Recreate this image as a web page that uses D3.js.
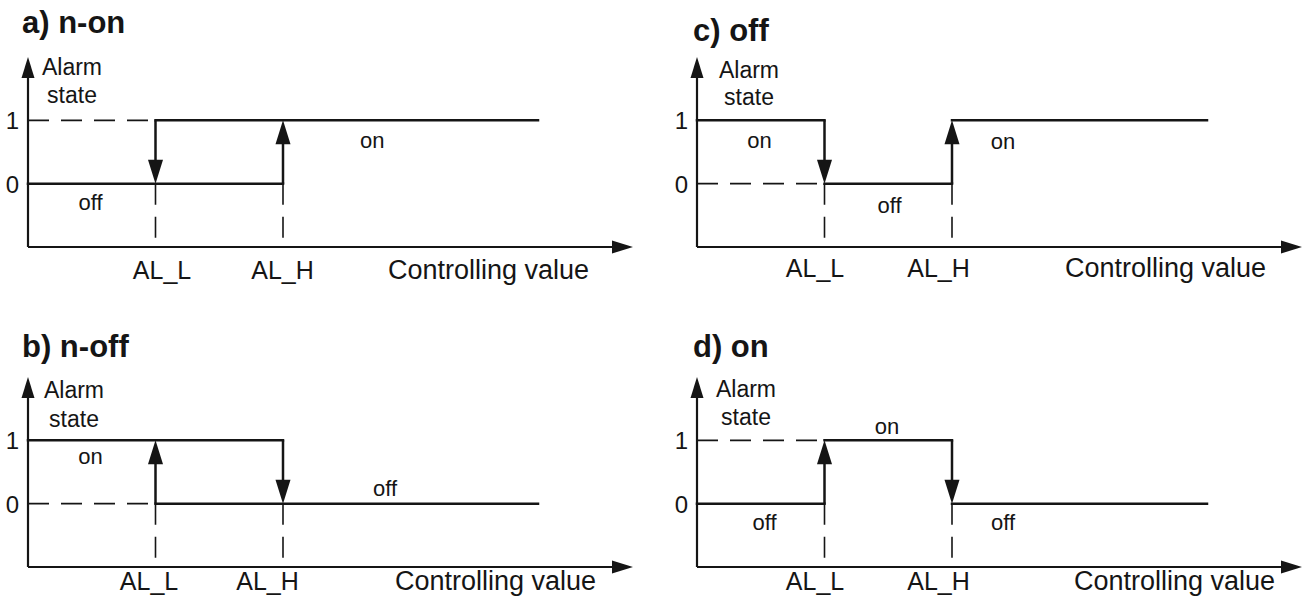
<!DOCTYPE html>
<html><head><meta charset="utf-8">
<script src="https://cdn.jsdelivr.net/npm/d3@7"></script>
<style>body{margin:0;background:#fff}svg{display:block}</style>
</head><body><svg id="chart" width="1302" height="596"></svg>
<script>
// ---------------- data ----------------
const panelTitles = ["a) n-on", "b) n-off", "c) off", "d) on"];
const xTickLabels = ["AL_L", "AL_H"];
const xTickValues = [1, 2];            // AL_L, AL_H on the controlling-value axis
const yTickLabels = ["0", "1"];
const yTickValues = [0, 1];            // alarm state
const xAxisTitle = "Controlling value";
const yAxisTitle = ["Alarm", "state"];

// segments [x1, y1, x2, y2] in (controlling value, alarm state) units
const solidA = [[0, 0, 2, 0], [1, 1, 4, 1]];
const arrowA = [[1, 1, 1, 0], [2, 0, 2, 1]];
const dashA  = [[0, 1, 1, 1], [1, 0, 1, -1], [2, 0, 2, -1]];

const solidB = [[0, 1, 2, 1], [1, 0, 4, 0]];
const arrowB = [[1, 0, 1, 1], [2, 1, 2, 0]];
const dashB  = [[0, 0, 1, 0], [1, 0, 1, -1], [2, 0, 2, -1]];

const solidC = [[0, 1, 1, 1], [1, 0, 2, 0], [2, 1, 4, 1]];
const arrowC = [[1, 1, 1, 0], [2, 0, 2, 1]];
const dashC  = [[0, 0, 1, 0], [1, 0, 1, -1], [2, 0, 2, -1]];

const solidD = [[0, 0, 1, 0], [1, 1, 2, 1], [2, 0, 4, 0]];
const arrowD = [[1, 0, 1, 1], [2, 1, 2, 0]];
const dashD  = [[0, 1, 1, 1], [1, 0, 1, -1], [2, 0, 2, -1]];

// state annotations [text, x, y]
const labelsA = [["on", 2.70, 0.68], ["off", 0.49, -0.29]];
const labelsB = [["on", 0.49, 0.75], ["off", 2.80, 0.24]];
const labelsC = [["on", 0.49, 0.68], ["on", 2.40, 0.67], ["off", 1.51, -0.35]];
const labelsD = [["on", 1.49, 1.22], ["off", 0.53, -0.30], ["off", 2.40, -0.30]];

const panelSolid  = [solidA, solidB, solidC, solidD];
const panelArrow  = [arrowA, arrowB, arrowC, arrowD];
const panelDash   = [dashA, dashB, dashC, dashD];
const panelLabels = [labelsA, labelsB, labelsC, labelsD];

// ---------------- layout ----------------
const layout = [
  {ox: 28,  oy: 247, tx: 22,  ty: 33,  tickY: 279, tickDx: [6, -1],   xtX: 388,  yt: [75, 103],  ytX: 44},
  {ox: 28,  oy: 567, tx: 22,  ty: 357, tickY: 590, tickDx: [-7, -16], xtX: 395,  yt: [398, 427], ytX: 46},
  {ox: 697, oy: 247, tx: 693, ty: 41,  tickY: 277, tickDx: [-10, -14], xtX: 1065, yt: [78, 105],  ytX: 52},
  {ox: 697, oy: 567, tx: 693, ty: 357, tickY: 590, tickDx: [-10, -14], xtX: 1074, yt: [397, 425], ytX: 49}
];
const FONT = "'Liberation Sans', Arial, Helvetica, sans-serif";
const INK = "#151515";

const svg = d3.select("#chart");

function head(tx, ty, dx, dy, len, wid) {
  const n = Math.hypot(dx, dy), ux = dx / n, uy = dy / n;
  const bx = tx - ux * len, by = ty - uy * len;
  const px = -uy * wid / 2, py = ux * wid / 2;
  return `M${tx},${ty}L${bx + px},${by + py}L${bx - px},${by - py}Z`;
}

panelTitles.forEach((title, i) => {
  const L = layout[i];
  const x = d3.scaleLinear().domain([0, 4]).range([L.ox, L.ox + 510]);
  const y = d3.scaleLinear().domain([-1, 2]).range([L.oy, L.oy - 190]);
  const xEnd = L.ox + 605;
  const g = svg.append("g").attr("font-family", FONT).attr("fill", INK);

  // title
  g.append("text").attr("x", L.tx).attr("y", L.ty)
    .attr("font-size", 31).attr("font-weight", "bold").text(title);

  // dashed guides
  g.selectAll("line.dash").data(panelDash[i]).join("line").attr("class", "dash")
    .attr("x1", d => x(d[0])).attr("y1", d => y(d[1]))
    .attr("x2", d => x(d[2])).attr("y2", d => y(d[3]))
    .attr("stroke", INK).attr("stroke-width", 1.6).attr("stroke-dasharray", "21,12");

  // solid state lines
  g.selectAll("line.solid").data(panelSolid[i]).join("line").attr("class", "solid")
    .attr("x1", d => x(d[0])).attr("y1", d => y(d[1]))
    .attr("x2", d => x(d[2])).attr("y2", d => y(d[3]))
    .attr("stroke", INK).attr("stroke-width", 2.5).attr("stroke-linecap", "square");

  // transition arrows
  g.selectAll("line.arr").data(panelArrow[i]).join("line").attr("class", "arr")
    .attr("x1", d => x(d[0])).attr("y1", d => y(d[1]))
    .attr("x2", d => x(d[2])).attr("y2", d => y(d[3]) + (d[3] > d[1] ? 10 : -10))
    .attr("stroke", INK).attr("stroke-width", 2.5);
  g.selectAll("path.arrh").data(panelArrow[i]).join("path").attr("class", "arrh")
    .attr("d", d => head(x(d[2]), y(d[3]), x(d[2]) - x(d[0]), y(d[3]) - y(d[1]), 24, 15))
    .attr("fill", INK);

  // axes lines with arrowheads
  g.append("line").attr("x1", L.ox).attr("y1", L.oy).attr("x2", xEnd - 10).attr("y2", L.oy)
    .attr("stroke", INK).attr("stroke-width", 2.2);
  g.append("path").attr("d", head(xEnd, L.oy, 1, 0, 21, 13)).attr("fill", INK);
  g.append("line").attr("x1", L.ox).attr("y1", L.oy).attr("x2", L.ox).attr("y2", y(2) + 10)
    .attr("stroke", INK).attr("stroke-width", 2.2);
  g.append("path").attr("d", head(L.ox, y(2), 0, -1, 21, 13)).attr("fill", INK);

  // x tick labels via d3 axis
  const xa = g.append("g").attr("transform", `translate(0,${L.tickY})`)
    .call(d3.axisBottom(x).tickValues(xTickValues)
      .tickFormat((d, j) => xTickLabels[j]).tickSize(0).tickPadding(0));
  xa.select(".domain").remove();
  xa.attr("font-family", FONT).attr("font-size", 25);
  xa.selectAll("text").attr("y", 0).attr("dy", 0).attr("fill", INK)
    .attr("dx", (d, j) => L.tickDx[j]);

  // y tick labels via d3 axis
  const ya = g.append("g").attr("transform", `translate(${L.ox},0)`)
    .call(d3.axisLeft(y).tickValues(yTickValues)
      .tickFormat((d, j) => yTickLabels[j]).tickSize(0).tickPadding(9));
  ya.select(".domain").remove();
  ya.attr("font-family", FONT).attr("font-size", 24);
  ya.selectAll("text").attr("fill", INK).attr("dy", "0.36em");

  // axis titles
  g.append("text").attr("x", L.xtX).attr("y", L.tickY).attr("font-size", 27).text(xAxisTitle);
  g.selectAll("text.yt").data(yAxisTitle).join("text").attr("class", "yt")
    .attr("x", L.ox + L.ytX).attr("y", (d, j) => L.yt[j])
    .attr("text-anchor", "middle").attr("font-size", 23).text(d => d);

  // state annotations
  g.selectAll("text.st").data(panelLabels[i]).join("text").attr("class", "st")
    .attr("x", d => x(d[1])).attr("y", d => y(d[2]))
    .attr("text-anchor", "middle").attr("dominant-baseline", "central")
    .attr("font-size", 22).text(d => d[0]);
});
</script></body></html>
